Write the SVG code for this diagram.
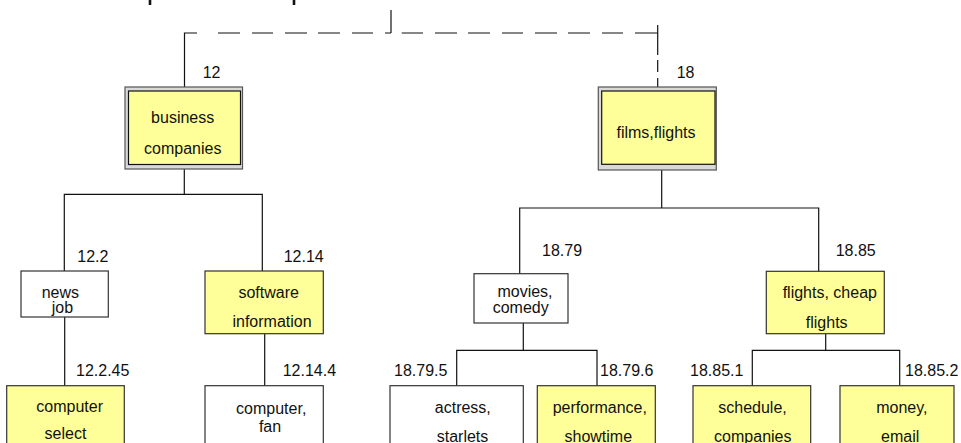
<svg xmlns="http://www.w3.org/2000/svg" width="961" height="443" viewBox="0 0 961 443">
  <style>
    text { font-family: "Liberation Sans", Arial, sans-serif; font-size: 16px; fill: #111; }
    .c { text-anchor: middle; }
    .wire { fill: none; stroke: #111; stroke-width: 1.2; }
    .box { stroke: #333; stroke-width: 1.2; }
    .yel { fill: #ffff99; }
    .wht { fill: #ffffff; }
    .frame { fill: #d9d9d9; stroke: #555; stroke-width: 1.2; }
    .inner { fill: #ffff99; stroke: #111; stroke-width: 1.2; }
  </style>

  <!-- clipped heading strokes at the very top edge -->
  <g id="header">
    <line x1="150" y1="0" x2="150" y2="5" stroke="#111" stroke-width="2.6"/>
    <line x1="294" y1="0" x2="294" y2="5" stroke="#111" stroke-width="2.6"/>
  </g>

  <g id="connectors">
    <!-- root dashed link -->
    <path class="wire" d="M391 10 V33"/>
    <path class="wire" d="M184.5 87 V33 H197 M218 33 H240 M252 33 H273 M285 33 H307 M318 33 H340 M352 33 H373 M385 33 H391"/>
    <path class="wire" d="M401.7 33 H423 M435 33 H457 M468 33 H490 M502 33 H523 M535 33 H557 M568 33 H590 M602 33 H623 M635 33 H658"/>
    <path class="wire" d="M657.7 25 V55 M657.7 60 V72 M657.7 78 V87"/>

    <!-- business subtree -->
    <path class="wire" d="M184.3 169 V194.3 M64.3 271 V194.3 H262.3 V271"/>
    <path class="wire" d="M64.7 317 V385.7"/>
    <path class="wire" d="M264.7 333.7 V385.7"/>

    <!-- films subtree -->
    <path class="wire" d="M661.7 170 V208 M519.7 273.7 V208 H818.7 V271.3"/>
    <path class="wire" d="M523.3 323 V350.3 M456.7 385.7 V350.3 H597 V385.7"/>
    <path class="wire" d="M825.7 333.7 V350.3 M752.3 385.7 V350.3 H899.7 V385.7"/>
  </g>

  <g id="n12">
    <rect class="frame" x="125" y="87" width="117.5" height="82"/>
    <rect class="inner" x="128.5" y="91" width="112" height="73.5"/>
    <text class="c" x="182.7" y="122.7">business</text>
    <text class="c" x="182.7" y="154">companies</text>
    <text x="202.7" y="78.3">12</text>
  </g>

  <g id="n18">
    <rect class="frame" x="598.3" y="87" width="118" height="83"/>
    <rect class="inner" x="601.7" y="91" width="113.3" height="73.3"/>
    <text class="c" x="656" y="138.3">films,flights</text>
    <text x="676.7" y="78.3">18</text>
  </g>

  <g id="n12-2">
    <rect class="box wht" x="21" y="271" width="87.3" height="46"/>
    <text x="41.7" y="297.7">news</text>
    <text x="51.7" y="313.3">job</text>
    <text x="77.3" y="261.7">12.2</text>
  </g>

  <g id="n12-14">
    <rect class="box yel" x="205" y="271" width="118.3" height="62.7"/>
    <text class="c" x="268.7" y="297.7">software</text>
    <text class="c" x="272" y="327.3">information</text>
    <text x="283.7" y="261.7">12.14</text>
  </g>

  <g id="n12-2-45">
    <rect class="box yel" x="6.7" y="385.7" width="117.6" height="70"/>
    <text class="c" x="69.7" y="412.3">computer</text>
    <text class="c" x="65.5" y="439">select</text>
    <text x="76" y="375.7">12.2.45</text>
  </g>

  <g id="n12-14-4">
    <rect class="box wht" x="205" y="385.7" width="118.3" height="70"/>
    <text class="c" x="271.2" y="414.3">computer,</text>
    <text class="c" x="270" y="432.3">fan</text>
    <text x="282.7" y="375.7">12.14.4</text>
  </g>

  <g id="n18-79">
    <rect class="box wht" x="474" y="273.7" width="94" height="49.3"/>
    <text class="c" x="525" y="297.3">movies,</text>
    <text class="c" x="520.7" y="313.3">comedy</text>
    <text x="542" y="255.7">18.79</text>
  </g>

  <g id="n18-85">
    <rect class="box yel" x="766.3" y="271.3" width="118" height="62.4"/>
    <text class="c" x="829.8" y="298.3">flights, cheap</text>
    <text class="c" x="826.7" y="327.7">flights</text>
    <text x="835.7" y="255.7">18.85</text>
  </g>

  <g id="n18-79-5">
    <rect class="box wht" x="390" y="385.7" width="133.3" height="70"/>
    <text class="c" x="462.8" y="412.7">actress,</text>
    <text class="c" x="462.5" y="441.7">starlets</text>
    <text x="394" y="375.7">18.79.5</text>
  </g>

  <g id="n18-79-6">
    <rect class="box yel" x="537.3" y="385.7" width="118" height="70"/>
    <text class="c" x="599.8" y="412.7">performance,</text>
    <text class="c" x="598.3" y="441.7">showtime</text>
    <text x="600" y="375.7">18.79.6</text>
  </g>

  <g id="n18-85-1">
    <rect class="box yel" x="693" y="385.7" width="117.7" height="70"/>
    <text class="c" x="752.5" y="412.7">schedule,</text>
    <text class="c" x="752.8" y="441.7">companies</text>
    <text x="690" y="375.7">18.85.1</text>
  </g>

  <g id="n18-85-2">
    <rect class="box yel" x="840" y="385.7" width="114" height="70"/>
    <text class="c" x="901.8" y="412.7">money,</text>
    <text class="c" x="900.2" y="441.7">email</text>
    <text x="905" y="375.7">18.85.2</text>
  </g>
</svg>
